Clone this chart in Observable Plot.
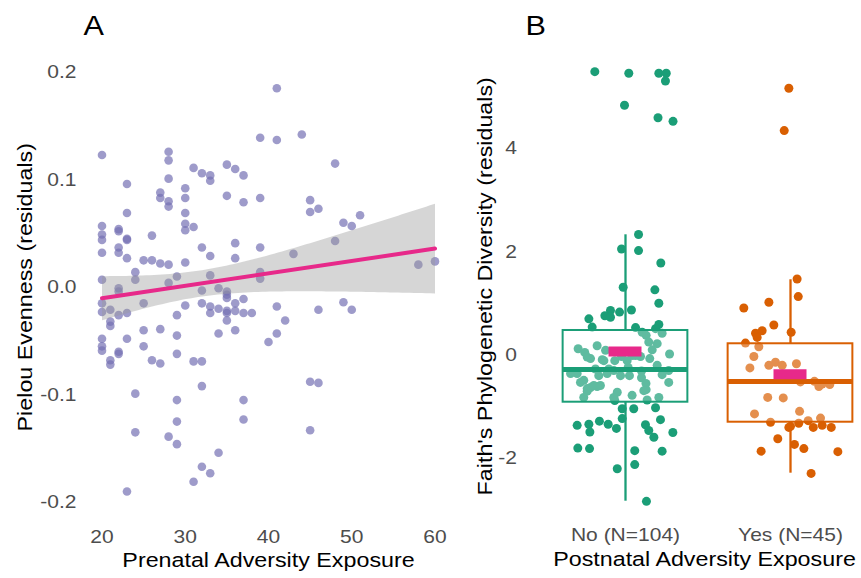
<!DOCTYPE html>
<html>
<head>
<meta charset="utf-8">
<script src="https://cdn.jsdelivr.net/npm/d3@7"></script>
<script src="https://cdn.jsdelivr.net/npm/@observablehq/plot@0.6"></script>
<style>
  html, body { margin: 0; padding: 0; background: #fff; }
  #wrap { position: relative; width: 861px; height: 578px; overflow: hidden; }
  #wrap svg { position: absolute; top: 0; }
</style>
</head>
<body>
<div id="wrap"></div>
<script>
// ---------- Panel A data: prenatal adversity vs Pielou evenness residuals ----------
const prenatal = [
  41,39,41,44,20,28,28,23,28,31,
  32,33,33,35,36,37,48,27,27,28,
  28,30,30,30,30,30,31,35,37,39,
  45,45,46,51,49,50,23,20,20,20,
  20,22,22,22,22,23,23,23,26,32,
  36,39,48,25,26,27,28,30,33,36,
  43,58,60,24,24,20,29,33,39,39,
  28,22,32,34,35,22,20,20,21,21,
  21,22,23,25,25,27,29,30,32,33,
  33,34,35,35,35,35,35,36,36,37,
  37,38,41,42,36,34,29,20,20,20,
  22,22,23,25,21,21,26,27,29,31,
  32,40,41,46,49,50,45,46,24,32,
  29,37,29,37,24,28,29,45,34,32,
  33,31,23
];
const evenness = [
  0.185,0.139,0.137,0.142,0.123,0.126,0.118,0.096,0.101,0.111,
  0.106,0.104,0.099,0.114,0.110,0.104,0.115,0.088,0.083,0.080,
  0.075,0.092,0.083,0.069,0.059,0.053,0.056,0.085,0.079,0.083,
  0.081,0.070,0.073,0.067,0.060,0.057,0.069,0.057,0.049,0.044,
  0.032,0.054,0.052,0.037,0.032,0.045,0.044,0.027,0.048,0.037,
  0.041,0.037,0.043,0.025,0.025,0.022,0.021,0.023,0.029,0.027,
  0.031,0.021,0.024,0.014,0.007,0.007,0.010,0.011,0.014,0.008,
  0.004,-0.001,-0.003,-0.001,-0.004,-0.004,-0.015,-0.023,-0.021,-0.032,
  -0.036,-0.026,-0.024,-0.015,-0.040,-0.039,-0.026,-0.017,-0.015,-0.018,
  -0.024,-0.020,-0.007,-0.010,-0.022,-0.024,-0.031,-0.015,-0.022,-0.011,
  -0.024,-0.024,-0.018,-0.031,-0.040,-0.043,-0.045,-0.048,-0.055,-0.059,
  -0.060,-0.062,-0.048,-0.055,-0.068,-0.072,-0.068,-0.071,-0.062,-0.069,
  -0.069,-0.051,-0.043,-0.021,-0.014,-0.021,-0.088,-0.089,-0.099,-0.092,
  -0.105,-0.105,-0.125,-0.123,-0.135,-0.139,-0.146,-0.133,-0.154,-0.167,
  -0.173,-0.181,-0.190
];
const prenatalTicks = [20, 30, 40, 50, 60];
const evennessTicks = [-0.2, -0.1, 0, 0.1, 0.2];

// ---------- Panel B data: Faith's PD residuals by postnatal adversity ----------
const groups = ["No", "Yes"];
const groupLabels = ["No (N=104)", "Yes (N=45)"];
const groupColors = ["#1b9e77", "#d95f02"];
// horizontal jitter (in group units) and residual value of each point
const noJitter = [
  -0.186,0.020,0.202,0.247,0.242,-0.006,0.197,0.288,
  0.079,-0.024,0.079,0.214,-0.014,0.178,0.202,
  -0.091,-0.036,0.036,-0.125,-0.091,-0.222,-0.202,0.061,0.101,0.202,0.182,0.222,0.125,
  0.192,0.162,-0.172,-0.287,-0.247,-0.212,-0.121,-0.141,-0.065,-0.024,
  0.040,0.091,0.147,0.267,-0.182,-0.101,0.016,0.097,0.192,0.262,
  -0.333,-0.162,-0.111,-0.030,0.024,0.097,0.222,0.262,-0.273,0.124,
  -0.212,-0.232,-0.172,-0.253,-0.050,0.040,0.125,0.202,-0.065,0.131,
  0.141,0.010,-0.131,-0.232,-0.071,-0.293,-0.253,-0.232,-0.192,-0.152,-0.071,0.111,0.061,
  -0.020,0.050,0.182,-0.293,-0.222,-0.216,-0.158,-0.105,-0.055,-0.020,
  0.121,0.141,0.172,0.212,0.287,-0.289,-0.218,0.056,0.222,0.056,-0.050,0.127
];
const noFaith = [
  5.48,5.45,5.45,5.45,5.30,4.83,4.59,4.52,
  2.33,2.05,2.02,1.78,1.31,1.26,1.00,
  0.86,0.83,0.87,0.76,0.73,0.70,0.54,0.53,0.44,0.59,0.51,0.42,0.38,
  0.22,0.10,0.18,0.12,0.05,-0.07,0.09,-0.09,-0.11,-0.03,
  -0.01,-0.03,-0.07,0.02,-0.27,-0.27,-0.24,-0.31,-0.20,-0.30,
  -0.36,-0.40,-0.36,-0.40,-0.40,-0.44,-0.38,-0.53,-0.53,-0.55,
  -0.63,-0.70,-0.61,-0.82,-0.72,-0.78,-0.67,-0.82,-0.88,-0.87,
  0.25,-0.11,-0.11,-0.04,-0.30,-0.36,-0.49,-0.65,-0.59,-0.59,-0.82,-0.69,-0.01,
  -1.04,-1.04,-1.02,-1.36,-1.34,-1.49,-1.28,-1.34,-1.42,-1.23,
  -1.35,-1.46,-1.59,-1.25,-1.50,-1.80,-1.81,-1.85,-1.86,-2.12,-2.20,-2.83
];
const yesJitter = [
  -0.010,-0.038,0.040,0.047,-0.131,-0.283,-0.101,0.004,-0.212,-0.172,
  -0.202,-0.273,-0.192,-0.222,-0.246,-0.131,-0.091,-0.050,0.036,0.145,
  0.192,0.238,0.172,-0.138,-0.044,-0.218,0.055,-0.121,-0.010,0.050,
  0.107,0.182,0.192,0.138,0.247,-0.077,0.024,0.081,-0.178,0.287,
  0.125,-0.050,0.060,0.000
];
const yesFaith = [
  5.16,4.34,1.47,1.13,1.02,0.91,0.58,0.44,0.42,0.47,
  0.34,0.23,0.16,-0.03,-0.25,-0.20,-0.14,-0.20,-0.17,-0.51,
  -0.56,-0.57,-0.61,-0.82,-0.83,-1.14,-1.09,-1.30,-1.40,-1.32,
  -1.27,-1.22,-1.36,-1.40,-1.40,-1.62,-1.73,-1.81,-1.86,-1.87,
  -2.29,-0.47,-0.52,-1.38
];
// box summaries
const boxQ1 = [-0.913, -1.300];
const boxMedian = [-0.280, -0.513];
const boxQ3 = [0.474, 0.217];
const whiskerLow = [-2.828, -2.286];
const whiskerHigh = [2.325, 1.455];
const groupMean = [0.07, -0.37];
const faithTicks = [-2, 0, 2, 4];

// ---------- build tables ----------
const dataA = prenatal.map((x, i) => ({x, y: evenness[i]}));
const dataB = [
  ...noJitter.map((j, i) => ({group: "No", x: 1 + j, y: noFaith[i]})),
  ...yesJitter.map((j, i) => ({group: "Yes", x: 2 + j, y: yesFaith[i]}))
];
const stats = groups.map((g, i) => ({
  group: g, pos: i + 1, q1: boxQ1[i], med: boxMedian[i], q3: boxQ3[i],
  lo: whiskerLow[i], hi: whiskerHigh[i], mean: groupMean[i]
}));
const HALF = 0.378;   // half box width (group units)
const MHALF = 0.1;    // half width of mean marker

const FONT = "'Liberation Sans', Arial, sans-serif";
const baseStyle = {fontFamily: FONT, fontSize: "18.5px", color: "#4d4d4d", background: "transparent", overflow: "visible"};

const plotA = Plot.plot({
  width: 440, height: 578,
  marginLeft: 101.5, marginRight: 5.5, marginTop: 71.7, marginBottom: 76.3,
  style: baseStyle,
  x: {domain: [20, 60], ticks: prenatalTicks, tickSize: 0, tickPadding: 28, tickFormat: d => String(d), label: null},
  y: {domain: [-0.2, 0.2], ticks: evennessTicks, tickSize: 0, tickPadding: 25.5, tickFormat: d => d.toFixed(1), label: null},
  marks: [
    Plot.dot(dataA, {x: "x", y: "y", r: 4.3, fill: "#7570b3", fillOpacity: 0.7}),
    Plot.linearRegressionY(dataA, {x: "x", y: "y", stroke: "#e7298a", strokeWidth: 4, fill: "#999999", fillOpacity: 0.4}),
    Plot.text(["Pielou Evenness (residuals)"], {frameAnchor: "left", text: d => d, rotate: -90, dx: -76.5, fontSize: 20.5, fill: "#000"}),
    Plot.text(["Prenatal Adversity Exposure"], {frameAnchor: "bottom", text: d => d, dy: 64.5, fontSize: 20.5, fill: "#000"}),
    Plot.text(["A"], {frameAnchor: "top-left", text: d => d, textAnchor: "start", lineAnchor: "top", dx: -18.5, dy: -56, fontSize: 27, fill: "#000"})
  ]
});

const plotB = Plot.plot({
  width: 421, height: 578,
  marginLeft: 185, marginRight: 71, marginTop: 147.7, marginBottom: 120.1,
  style: baseStyle,
  color: {domain: groups, range: groupColors},
  x: {domain: [1, 2], ticks: [1, 2], tickSize: 0, tickPadding: 69, tickFormat: i => groupLabels[i - 1], label: null},
  y: {domain: [-2, 4], ticks: faithTicks, tickSize: 0, tickPadding: 108.5, tickFormat: d => String(d), label: null},
  marks: [
    Plot.dot(dataB, {x: "x", y: "y", r: 4.5, fill: "group"}),
    Plot.ruleX(stats, {x: "pos", y1: "q3", y2: "hi", stroke: "group", strokeWidth: 2.3}),
    Plot.ruleX(stats, {x: "pos", y1: "lo", y2: "q1", stroke: "group", strokeWidth: 2.3}),
    Plot.rect(stats, {x1: d => d.pos - HALF, x2: d => d.pos + HALF, y1: "q1", y2: "q3", fill: "white", fillOpacity: 0.3, stroke: "group", strokeWidth: 2}),
    Plot.ruleY(stats, {y: "med", x1: d => d.pos - HALF, x2: d => d.pos + HALF, stroke: "group", strokeWidth: 5}),
    Plot.ruleY(stats, {y: "mean", x1: d => d.pos - MHALF, x2: d => d.pos + MHALF, stroke: "#e7298a", strokeWidth: 10}),
    Plot.text(["Faith's Phylogenetic Diversity (residuals)"], {frameAnchor: "left", text: d => d, rotate: -90, dx: -140, dy: -17, fontSize: 20.5, fill: "#000"}),
    Plot.text(["Postnatal Adversity Exposure"], {frameAnchor: "bottom", text: d => d, dx: -3.5, dy: 108, fontSize: 20.5, fill: "#000"}),
    Plot.text(["B"], {frameAnchor: "top-left", text: d => d, textAnchor: "start", lineAnchor: "top", dx: -100, dy: -132.5, fontSize: 27, fill: "#000"})
  ]
});

const wrap = document.getElementById("wrap");
plotA.style.left = "0px";
plotB.style.left = "440px";
wrap.appendChild(plotA);
wrap.appendChild(plotB);

// the reference's lettering is set about 13% wider than Arial
function widen(svg, k) {
  svg.querySelectorAll("text").forEach(t => {
    const L = t.getComputedTextLength();
    if (!(L > 0)) return;
    const newL = L * k;
    const tr = t.getAttribute("transform") || "";
    t.setAttribute("textLength", newL.toFixed(2));
    t.setAttribute("lengthAdjust", "spacingAndGlyphs");
    if (tr.includes("rotate")) {
      // keep rotated titles centred on their anchor
      t.setAttribute("text-anchor", "start");
      t.setAttribute("x", (-newL / 2).toFixed(2));
    }
  });
}
widen(plotA, 1.135);
widen(plotB, 1.135);
</script>
</body>
</html>
